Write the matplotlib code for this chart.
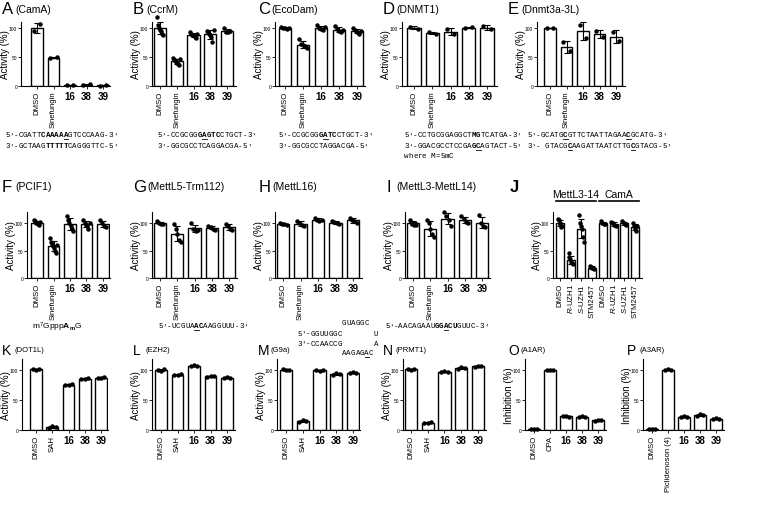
import numpy as np
import matplotlib.pyplot as plt
from matplotlib.lines import Line2D
from matplotlib.transforms import blended_transform_factory

plt.rcParams['font.family'] = ['Liberation Sans', 'DejaVu Sans']
plt.rcParams['mathtext.fontset'] = 'custom'
plt.rcParams['mathtext.rm'] = 'Liberation Sans'
plt.rcParams['mathtext.it'] = 'Liberation Sans:italic'
plt.rcParams['mathtext.bf'] = 'Liberation Sans:bold'

W, H = 763, 510

# ---- data (replicate values, % activity / inhibition) ----
row1_labels = ["DMSO", "Sinefungin", "16", "38", "39"]
row3_labels = ["DMSO", "SAH", "16", "38", "39"]
a1ar_labels = ["DMSO", "CPA", "16", "38", "39"]
a3ar_labels = ["DMSO", "Piclidenoson (4)", "16", "38", "39"]
j_labels = ["DMSO", r"$\mathit{R}$-UZH1", r"$\mathit{S}$-UZH1", "STM2457",
            "DMSO", r"$\mathit{R}$-UZH1", r"$\mathit{S}$-UZH1", "STM2457"]

camA = [[94, 106], [48, 49], [1, 2], [2, 3], [0.5, 2]]
ccrM = [[118, 105, 100, 97, 95, 90, 88], [48, 45, 44, 42, 40, 38, 36, 46],
        [92, 90, 88, 87, 85, 83, 89], [95, 93, 90, 88, 85, 75, 97], [100, 93, 92, 95]]
ecoDam = [[101, 100, 99, 98, 100], [80, 73, 70, 68, 65], [105, 100, 98, 96, 102],
          [103, 98, 95, 92, 97], [100, 96, 93, 90, 95]]
dnmt1 = [[102, 98], [93, 90], [98, 89], [100, 101], [103, 98]]
dnmt3a = [[100, 100], [75, 60], [105, 83], [95, 85], [93, 77]]
pcif1 = [[105, 103, 100, 98, 96, 102], [72, 65, 62, 58, 55, 50, 45, 60],
         [113, 105, 100, 95, 90, 85], [105, 100, 97, 95, 90, 100], [105, 100, 95, 92]]
mettl5 = [[103, 100, 98, 99], [98, 90, 80, 70, 65], [100, 90, 85, 88],
          [95, 93, 90, 88], [98, 95, 90, 88]]
mettl16 = [[100, 98, 99, 97], [104, 100, 96, 94], [110, 106, 103, 105],
           [104, 101, 100, 98], [110, 106, 103, 100]]
mettl3 = [[105, 101, 98, 96, 100, 97], [105, 100, 90, 80, 75], [120, 112, 105, 95],
          [112, 108, 102, 100], [115, 100, 95, 93]]
j_data = [[108, 105, 100, 97, 93, 95], [45, 38, 35, 30, 28, 25],
          [115, 100, 95, 90, 75, 65], [22, 20, 19, 18, 16],
          [103, 100, 98, 99], [102, 100, 97, 95], [103, 100, 98, 96], [100, 95, 90, 85, 95]]
dot1l = [[102, 100, 101], [4, 6, 5], [74, 75, 76], [84, 85, 86], [86, 87, 88]]
ezh2 = [[100, 98, 101], [91, 92, 93], [106, 108, 107], [88, 90, 89], [86, 88, 87]]
g9a = [[101, 100, 100], [14, 16, 15], [99, 98, 100], [92, 94, 93], [95, 96, 95]]
prmt1 = [[101, 100, 101], [11, 12, 13], [96, 98, 97], [102, 104, 103], [105, 107, 106]]
a1ar = [[1, 2, 1], [100, 99, 100], [23, 24, 22], [21, 23, 22], [15, 17, 16]]
a3ar = [[1, 2, 1], [100, 101, 100], [21, 23, 22], [24, 26, 25], [18, 20, 19]]

fig = plt.figure(figsize=(W / 100, H / 100), dpi=100)


def panel(box, bars, labels, data, ylim, ylabel="Activity (%)",
          bold_num=True, width=0.72):
    l, t, r, b = box
    first, last = bars
    n = len(data)
    sc = (last - first) / (n - 1)
    ax = fig.add_axes([l / W, 1 - b / H, (r - l) / W, (b - t) / H])
    x = np.arange(n)
    means = [np.mean(g) for g in data]
    sds = [np.std(g, ddof=1) for g in data]
    ax.bar(x, means, width=width, color="white", edgecolor="black", lw=1.0, zorder=2)
    ax.errorbar(x, means, yerr=sds, fmt="none", ecolor="black", elinewidth=0.8,
                capsize=2, capthick=0.8, zorder=3, clip_on=False)
    for xi, g in zip(x, data):
        offs = np.linspace(-0.2, 0.2, len(g)) if len(g) > 1 else [0]
        ax.plot(xi + np.asarray(offs), g, "o", color="black", ms=2.2, zorder=4, clip_on=False)
    ax.set_xlim(-(first - l) / sc, (n - 1) + (r - last) / sc)
    ax.set_ylim(*ylim)
    ax.set_yticks([0, 50, 100])
    ax.spines[["top", "right"]].set_visible(False)
    ax.spines[["left", "bottom"]].set_linewidth(0.8)
    ax.tick_params(axis="y", labelsize=3.5, length=2, width=0.6, pad=0.8)
    ax.tick_params(axis="x", length=2, width=0.6, pad=1.5)
    ax.set_xticks(x)
    ax.set_xticklabels(labels)
    for lab in ax.get_xticklabels():
        if bold_num and lab.get_text().isdigit():
            lab.set_fontsize(7)
            lab.set_fontweight("bold")
        else:
            lab.set_rotation(90)
            lab.set_fontsize(5.6)
    ax.set_ylabel(ylabel, fontsize=7, va="center")
    ax.yaxis.set_label_coords(-16 / (r - l), 0.5)
    return ax


def title(x, y, letter, name, big=12, small=7.5, bold=False, gap=0):
    fig.text(x / W, 1 - y / H, letter, fontsize=big, va="center",
             weight="bold" if bold else "normal")
    if name:
        fig.text((x + big * 1.05 + gap) / W, 1 - y / H, name, fontsize=small, va="center")


def seq(x, y, markup, fs=5.4):
    cw = 0.6 * fs * 100 / 72
    i = 0
    bold = False
    under = False
    for ch in markup:
        if ch == "[":
            bold = True
            continue
        if ch == "]":
            bold = False
            continue
        if ch == "_":
            under = True
            continue
        if ch != " ":
            fig.text((x + i * cw) / W, 1 - y / H, ch, family="Liberation Mono",
                     fontsize=fs, weight="bold" if bold else "normal", ha="left", va="center")
        if under:
            fig.add_artist(Line2D([(x + i * cw) / W, (x + (i + 1) * cw) / W],
                                  [1 - (y + 3.8) / H] * 2, color="black", lw=0.6))
            under = False
        i += 1


# ---- row 1 ----
row1_ylim = (0, 110)
panel((21, 23, 110, 87), (37, 103), row1_labels, camA, row1_ylim)
panel((152, 23, 236, 87), (160, 227), row1_labels, ccrM, row1_ylim)
panel((275, 23, 365, 87), (285, 357), row1_labels, ecoDam, row1_ylim)
panel((402, 23, 497, 87), (414, 487), row1_labels, dnmt1, row1_ylim)
panel((537, 23, 625, 87), (550, 616), row1_labels, dnmt3a, row1_ylim)
title(2, 10, "A", "(CamA)", gap=1)
title(133, 10, "B", "(CcrM)", gap=1)
title(258, 10, "C", "(EcoDam)", gap=1)
title(383, 10, "D", "(DNMT1)", gap=1)
title(508, 10, "E", "(Dnmt3a-3L)", gap=1)

seq(5, 136, "5'-CGATT[CAAAA_A]GTCCCAAG-3'")
seq(5, 147, "3'-GCTAAG[TTTTT]CAGGGTTC-5'")
seq(157, 136, "5'-CCGCGG[G_AGTC]CTGCT-3'")
seq(157, 147, "3'-GGCGCCTCAGGACGA-5'")
seq(278, 136, "5'-CCGCGG[G_ATC]CTGCT-3'")
seq(278, 147, "3'-GGCGCCTAGGACGA-5'")
seq(404, 136, "5'-CCTGCGGAGGCT[MG]TCATGA-3'")
seq(404, 147, "3'-GGACGCCTCCGA[G_C]AGTACT-5'")
seq(404, 157, "where M=5mC")
seq(527, 136, "5'-GCATG[_C]GTTCTAATTAGAA[_C]GCATG-3'")
seq(527, 147, "3'- GTACG[_C]AAGATTAATCTTG[_C]GTACG-5'")

# ---- row 2 ----
row2_ylim = (0, 120)
panel((27, 213, 110, 279), (37, 103), row1_labels, pcif1, row2_ylim)
panel((152, 213, 237, 279), (160, 229), row1_labels, mettl5, row2_ylim)
panel((275, 213, 362, 279), (283, 353), row1_labels, mettl16, row2_ylim)
panel((405, 213, 490, 279), (413, 482), row1_labels, mettl3, row2_ylim)
axj = panel((553, 213, 642, 279), (560, 635), j_labels, j_data, row2_ylim,
            bold_num=False, width=0.75)
title(2, 187, "F", "(PCIF1)", gap=1)
title(133, 187, "G", "(MettL5-Trm112)", gap=2)
title(259, 187, "H", "(MettL16)", gap=1)
title(387, 187, "I", "(MettL3-MettL14)", gap=-3)
title(510, 187, "J", None, bold=True)
tr = blended_transform_factory(axj.transData, axj.transAxes)
for x0, x1, name in [(-0.35, 3.35, "MettL3-14"), (3.65, 7.35, "CamA")]:
    axj.add_line(Line2D([x0, x1], [1.16, 1.16], transform=tr, color="black",
                        lw=1.2, clip_on=False))
    axj.text((x0 + x1) / 2, 1.19, name, transform=tr, ha="center", va="bottom", fontsize=7.5)

fig.text(32 / W, 1 - 327 / H, r"m$^7$Gppp$\mathbf{A}_\mathbf{m}$G", fontsize=6, va="center")
seq(158, 327, "5'-UCGUA[_AC]AAGGUUU-3'")
seq(297, 324, "          GUAGGC")
seq(297, 334, "5'-GGUUGGC       U")
seq(297, 344, "3'-CCAACCG       A")
seq(297, 354, "          AAGAG_AC")
seq(385, 327, "5'-AACAGAAU[GG_ACU]GUUC-3'")

# ---- row 3 ----
row3_ylim = (0, 118)
panel((22, 360, 108, 431), (36, 101), row3_labels, dot1l, row3_ylim)
panel((152, 360, 235, 431), (161, 227), row3_labels, ezh2, row3_ylim)
panel((277, 360, 360, 431), (286, 353), row3_labels, g9a, row3_ylim)
panel((403, 360, 486, 431), (411, 478), row3_labels, prmt1, row3_ylim)
panel((525, 360, 606, 431), (534, 598), a1ar_labels, a1ar, row3_ylim,
      ylabel="Inhibition (%)")
panel((643, 360, 724, 431), (652, 716), a3ar_labels, a3ar, row3_ylim,
      ylabel="Inhibition (%)")
title(2, 351, "K", "(DOT1L)", big=10, small=5.5, gap=2)
title(133, 351, "L", "(EZH2)", big=10, small=5.5, gap=2)
title(258, 351, "M", "(G9a)", big=10, small=5.5, gap=2)
title(383, 351, "N", "(PRMT1)", big=10, small=5.5, gap=2)
title(508, 351, "O", "(A1AR)", big=10, small=5.5, gap=2)
title(627, 351, "P", "(A3AR)", big=10, small=5.5, gap=2)

fig.savefig("out.png", dpi=100)
